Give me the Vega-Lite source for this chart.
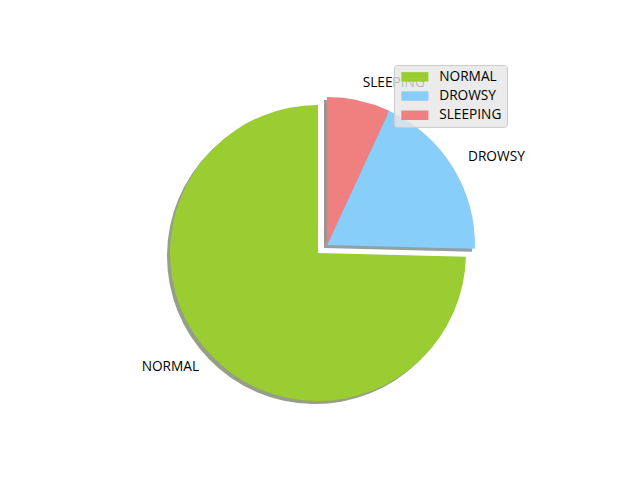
{
  "$schema": "https://vega.github.io/schema/vega-lite/v6.json",
  "width": 370,
  "height": 370,
  "autosize": {"type": "none"},
  "padding": {"left": 142, "top": 60, "right": 128, "bottom": 50},
  "background": "white",
  "data": {"values": [
    {"status": "NORMAL", "value": 74.6},
    {"status": "DROWSY", "value": 18.5},
    {"status": "SLEEPING", "value": 6.9}
  ]},
  "encoding": {
    "theta": {"field": "value", "type": "quantitative", "stack": true},
    "order": {"field": "value", "type": "quantitative", "sort": "ascending"}
  },
  "layer": [
    {
      "layer": [
        {
          "mark": {"type": "arc", "outerRadius": 148, "xOffset": -3, "yOffset": 3},
          "encoding": {
            "color": {"field": "status", "type": "nominal", "legend": null,
              "scale": {"domain": ["NORMAL", "DROWSY", "SLEEPING"], "range": ["#2e3d0f", "#283e4b", "#482626"]}},
            "opacity": {"condition": {"test": "datum.status !== 'NORMAL'", "value": 0.5}, "value": 0}
          }
        },
        {
          "mark": {"type": "arc", "outerRadius": 148, "xOffset": -12, "yOffset": 11},
          "encoding": {
            "color": {"field": "status", "type": "nominal", "legend": null},
            "opacity": {"condition": {"test": "datum.status === 'NORMAL'", "value": 0.5}, "value": 0}
          }
        }
      ]
    },
    {
      "layer": [
        {
          "mark": {"type": "arc", "outerRadius": 148},
          "encoding": {
            "color": {"field": "status", "type": "nominal",
              "scale": {"domain": ["NORMAL", "DROWSY", "SLEEPING"], "range": ["#9acd32", "#87cefa", "#f08080"]},
              "legend": {"title": null}},
            "opacity": {"condition": {"test": "datum.status !== 'NORMAL'", "value": 1}, "value": 0}
          }
        },
        {
          "mark": {"type": "arc", "outerRadius": 148, "xOffset": -9, "yOffset": 8},
          "encoding": {
            "color": {"field": "status", "type": "nominal"},
            "opacity": {"condition": {"test": "datum.status === 'NORMAL'", "value": 1}, "value": 0}
          }
        },
        {
          "mark": {"type": "text", "radius": 166, "align": "left", "baseline": "middle", "font": "Open Sans", "fontSize": 13.7, "color": "#000000"},
          "encoding": {
            "text": {"field": "status", "type": "nominal"},
            "opacity": {"condition": {"test": "datum.status !== 'NORMAL'", "value": 1}, "value": 0}
          }
        },
        {
          "mark": {"type": "text", "radius": 166, "align": "right", "baseline": "middle", "font": "Open Sans", "fontSize": 13.7, "color": "#000000", "xOffset": -9, "yOffset": 6},
          "encoding": {
            "text": {"field": "status", "type": "nominal"},
            "opacity": {"condition": {"test": "datum.status === 'NORMAL'", "value": 1}, "value": 0}
          }
        }
      ]
    }
  ],
  "resolve": {"scale": {"color": "independent"}, "legend": {"color": "independent"}},
  "config": {
    "view": {"stroke": null},
    "legend": {
      "orient": "top-right",
      "offset": 5,
      "fillColor": "rgba(230,230,230,0.8)",
      "strokeColor": "#cccccc",
      "cornerRadius": 3,
      "padding": 5,
      "symbolType": "M-2.85,-1L2.85,-1L2.85,1L-2.85,1Z",
      "symbolSize": 90,
      "symbolOffset": 9,
      "symbolStrokeWidth": 0,
      "symbolOpacity": 1,
      "labelFont": "Open Sans",
      "labelFontSize": 13.7,
      "labelColor": "#000000",
      "labelOffset": 17.5,
      "rowPadding": 4.2
    }
  }
}
